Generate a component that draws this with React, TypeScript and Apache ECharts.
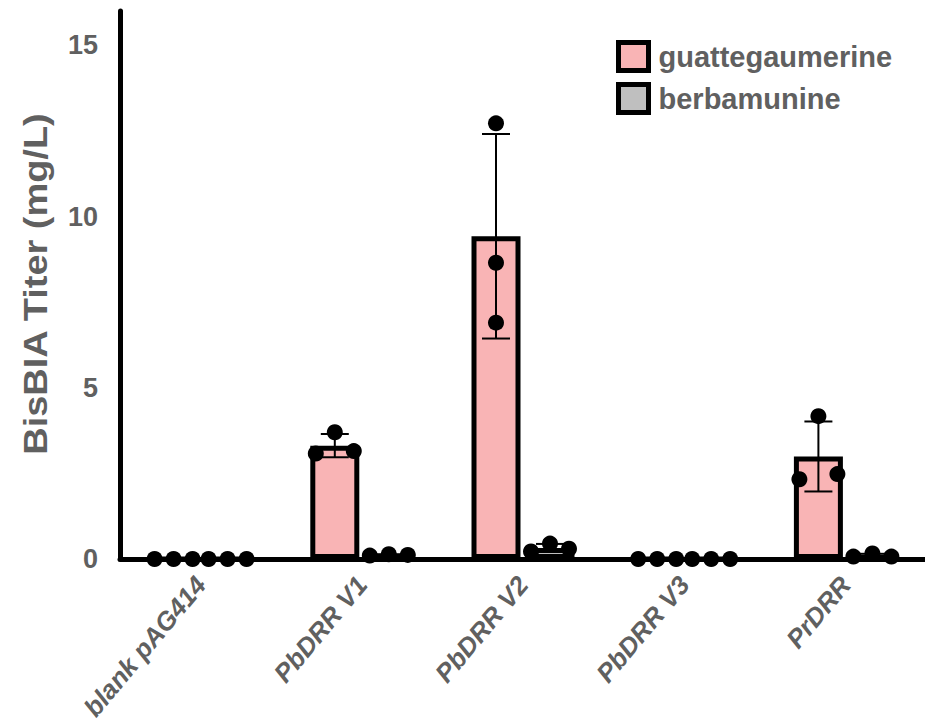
import React, { useEffect, useRef } from "react";
import * as echarts from "echarts";

// ---------- data ----------
const CATEGORIES = ["blank pAG414", "PbDRR V1", "PbDRR V2", "PbDRR V3", "PrDRR"];
const SERIES_NAMES = ["guattegaumerine", "berbamunine"];
// replicate values (mg/L), listed left / middle / right as plotted
const GUAT_REPS = [
  [0, 0, 0],
  [3.08, 3.7, 3.15],
  [12.72, 8.65, 6.9],
  [0, 0, 0],
  [2.33, 4.17, 2.48],
];
const BERB_REPS = [
  [0, 0, 0],
  [0.1, 0.14, 0.12],
  [0.22, 0.45, 0.3],
  [0, 0, 0],
  [0.07, 0.16, 0.07],
];
const Y_MIN = 0;
const Y_MAX = 16;
const Y_INTERVAL = 5;

// ---------- style / layout ----------
const PINK = "#F9B4B5";
const GREY = "#BFBFBF";
const TEXT = "#606060";
const FONT = "'Liberation Sans', Arial, Helvetica, sans-serif";
const BAR_WIDTH = 49;
const BAR_GAP_PX = 5;
const OFFSET = (BAR_WIDTH + BAR_GAP_PX) / 2;
const JITTER = [-19, 0, 19];
const DOT = 16;

const mean = (a: number[]) => a.reduce((s, v) => s + v, 0) / a.length;
const sd = (a: number[]) => {
  const m = mean(a);
  return Math.sqrt(a.reduce((s, v) => s + (v - m) * (v - m), 0) / (a.length - 1));
};
const needsSpread = (a: number[]) => {
  let minDiff = Infinity;
  for (let i = 0; i < a.length; i++)
    for (let j = i + 1; j < a.length; j++) minDiff = Math.min(minDiff, Math.abs(a[i] - a[j]));
  return minDiff < 0.6;
};

function dots(reps: number[][], sign: number) {
  const out: any[] = [];
  reps.forEach((r, i) => {
    const spread = needsSpread(r);
    r.forEach((v, k) => {
      out.push({ value: [i, v], symbolOffset: [sign * OFFSET + (spread ? JITTER[k] : 0), 0] });
    });
  });
  return out;
}

function errData(reps: number[][], sign: number) {
  return reps.map((r, i) => [i, mean(r), sd(r), sign]);
}

const renderErr = (params: any, api: any) => {
  const i = api.value(0);
  const m = api.value(1);
  const s = api.value(2);
  const sign = api.value(3);
  if (!(s > 0)) return null;
  const top = api.coord([i, m + s]);
  const bot = api.coord([i, m - s]);
  const x = top[0] + sign * OFFSET;
  const cap = 14;
  const st = { stroke: "#000", lineWidth: 2 };
  return {
    type: "group",
    children: [
      { type: "line", shape: { x1: x, y1: top[1], x2: x, y2: bot[1] }, style: st },
      { type: "line", shape: { x1: x - cap, y1: top[1], x2: x + cap, y2: top[1] }, style: st },
      { type: "line", shape: { x1: x - cap, y1: bot[1], x2: x + cap, y2: bot[1] }, style: st },
    ],
  };
};

export default function App() {
  const ref = useRef<HTMLDivElement>(null);
  useEffect(() => {
    if (!ref.current) return;
    const chart = echarts.init(ref.current, null, { renderer: "svg" });
    chart.setOption({
      animation: false,
      backgroundColor: "#fff",
      grid: { left: 120, top: 11, width: 806, height: 548, containLabel: false, outerBoundsMode: "none" },
      legend: {
        data: SERIES_NAMES,
        orient: "vertical",
        left: 611,
        top: 35,
        icon: "rect",
        itemWidth: 30,
        itemHeight: 28,
        itemGap: 9,
        itemStyle: { borderColor: "#000", borderWidth: 5 },
        textStyle: { color: TEXT, fontFamily: FONT, fontWeight: "bold", fontSize: 29, padding: [0, 0, 0, 5] },
      },
      graphic: [
        {
          type: "text",
          x: 36,
          y: 284,
          rotation: Math.PI / 2,
          scaleX: 1.15,
          style: {
            text: "BisBIA Titer (mg/L)",
            fill: TEXT,
            font: `bold 33px ${FONT}`,
            align: "center",
            verticalAlign: "middle",
          },
        },
      ],
      xAxis: {
        type: "category",
        data: CATEGORIES,
        axisLine: { show: true, lineStyle: { color: "#000", width: 5 } },
        axisTick: { show: false },
        axisLabel: {
          interval: 0,
          rotate: 50,
          margin: 21,
          color: TEXT,
          fontFamily: FONT,
          fontWeight: "bold",
          fontStyle: "italic",
          fontSize: 26,
        },
        splitLine: { show: false },
      },
      yAxis: {
        type: "value",
        min: Y_MIN,
        max: Y_MAX,
        interval: Y_INTERVAL,
        axisLine: { show: true, lineStyle: { color: "#000", width: 5 } },
        axisTick: { show: false },
        splitLine: { show: false },
        axisLabel: {
          margin: 22,
          color: TEXT,
          fontFamily: FONT,
          fontWeight: "bold",
          fontSize: 27,
          formatter: (v: number) => (v % Y_INTERVAL === 0 ? String(v) : ""),
        },
      },
      series: [
        {
          name: SERIES_NAMES[0],
          type: "bar",
          data: GUAT_REPS.map(mean),
          barWidth: BAR_WIDTH,
          barGap: `${(BAR_GAP_PX / BAR_WIDTH) * 100}%`,
          itemStyle: { color: PINK, borderColor: "#000", borderWidth: 5 },
          z: 2,
        },
        {
          name: SERIES_NAMES[1],
          type: "bar",
          data: BERB_REPS.map(mean),
          barWidth: BAR_WIDTH,
          itemStyle: { color: GREY, borderColor: "#000", borderWidth: 5 },
          z: 2,
        },
        {
          type: "custom",
          renderItem: renderErr,
          data: errData(GUAT_REPS, -1).concat(errData(BERB_REPS, 1)),
          z: 3,
          silent: true,
        },
        {
          type: "scatter",
          data: dots(GUAT_REPS, -1).concat(dots(BERB_REPS, 1)),
          symbol: "circle",
          symbolSize: DOT,
          itemStyle: { color: "#000", opacity: 1 },
          z: 4,
        },
      ],
    });
    return () => chart.dispose();
  }, []);
  return (
    <div
      ref={ref}
      style={{ position: "fixed", left: 0, top: 0, width: 925, height: 728, background: "#fff" }}
    />
  );
}
